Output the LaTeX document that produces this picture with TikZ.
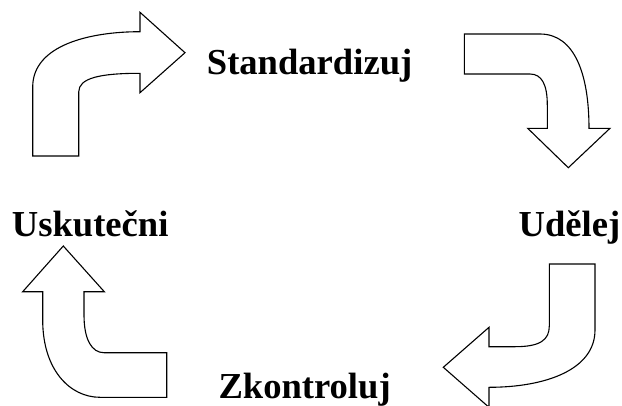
\documentclass[tikz,border=0pt]{standalone}
\usepackage{fontspec}
\setmainfont{Liberation Serif}
\usepackage{tikz}

\begin{document}
\begin{tikzpicture}[x=1pt,y=-1pt,
        turnarrow/.style={draw,line width=1.1pt,fill=white},
        word/.style={anchor=base west,inner sep=0pt,font=\bfseries\fontsize{36.6}{40}\selectfont}]
        \useasboundingbox (0,0) rectangle (622,405);
        % top left: up, then right
        \draw [turnarrow] (32.7,156) -- (32.7,87) .. controls (32.7,45) and (90,31.7) .. (140,31.7) -- (140,12.3) -- (185,52.7) -- (140,92.7) -- (140,73.3) .. controls (100,73.3) and (78.7,78) .. (78.7,92) -- (78.7,156) -- cycle;
        % top right: right, then down
        \draw [turnarrow] (464.3,34) -- (540,34) .. controls (575,34) and (589,75) .. (589,128.3) -- (610,128.3) -- (568.3,167.7) -- (527.7,128.3) -- (547.3,128.3) -- (547.3,105) .. controls (547.3,85) and (542,74) .. (530,74) -- (464.3,74) -- cycle;
        % bottom right: down, then left
        \draw [turnarrow] (549.3,264) -- (595,264) -- (595,330) .. controls (595,370) and (545,387.3) .. (489,387.3) -- (489,407.3) -- (443.3,367.3) -- (489,327.3) -- (489,346.7) -- (515,346.7) .. controls (540,346.7) and (549.3,340) .. (549.3,326) -- cycle;
        % bottom left: left, then up
        \draw [turnarrow] (166.7,352.7) -- (166.7,397.3) -- (100,397.3) .. controls (70,397.3) and (42.7,370) .. (42.7,320) -- (42.7,291.7) -- (22.7,291.7) -- (63.3,246) -- (104.3,291.7) -- (84,291.7) -- (84,315) .. controls (84,340) and (92,352.7) .. (104,352.7) -- cycle;
        \node [word] (std) at (206.7,74.5) {Standardizuj};
        \node [word] (udl) at (518.5,236.5) {Udělej};
        \node [word] (zkt) at (218.3,398) {Zkontroluj};
        \node [word] (usk) at (11.7,236.5) {Uskutečni};
\end{tikzpicture}
\end{document}
